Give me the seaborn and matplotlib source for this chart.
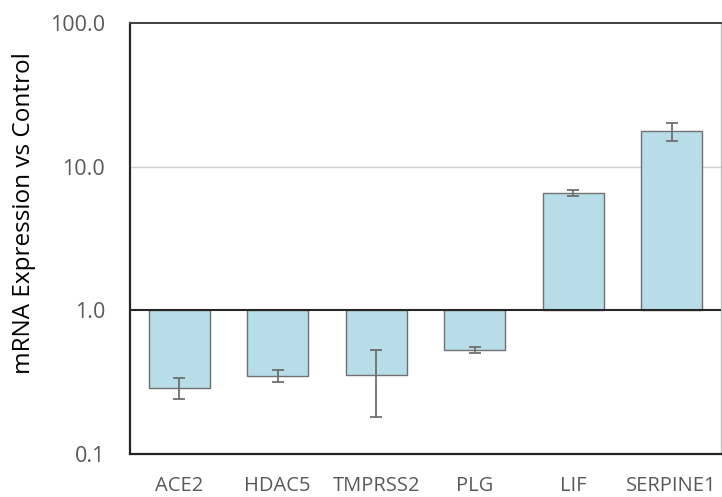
import numpy as np
import pandas as pd
import seaborn as sns
import matplotlib.pyplot as plt

# valores (expressão relativa ao controle)
genes = ['ACE2', 'HDAC5', 'TMPRSS2', 'PLG', 'LIF', 'SERPINE1']
expressao = [0.29, 0.35, 0.355, 0.53, 6.6, 17.7]
erro = [0.05, 0.033, 0.175, 0.025, 0.3, 2.6]
ticks_y = [0.1, 1.0, 10.0, 100.0]

sns.set_theme(style="white")
plt.rcParams['font.family'] = ['Open Sans', 'DejaVu Sans']

# barras partem de 1.0 -> trabalha em log10 num eixo linear
df = pd.DataFrame({'gene': genes, 'log_val': np.log10(expressao)})
vals = np.array(expressao)
errs = np.array(erro)
err_baixo = np.log10(vals) - np.log10(vals - errs)
err_cima = np.log10(vals + errs) - np.log10(vals)

fig = plt.figure(figsize=(7.22, 4.97), dpi=100)
ax = fig.add_axes([0.180, 0.0865, 0.8186, 0.8672])

sns.barplot(data=df, x='gene', y='log_val', color='#B7DEE8', saturation=1,
            width=0.62, edgecolor='#707070', linewidth=1.0, ax=ax, zorder=2)
ax.errorbar(np.arange(len(genes)), df['log_val'], yerr=[err_baixo, err_cima],
            fmt='none', ecolor='#6F6F6F', elinewidth=1.3, capsize=4.5,
            capthick=1.3, zorder=3)

ax.set_ylim(-1, 2)
ax.set_xlim(-0.5, len(genes) - 0.5)
ax.set_yticks(np.log10(ticks_y))
ax.set_yticklabels([f'{t:.1f}' for t in ticks_y])
ax.axhline(1, color='#D0D0D0', linewidth=1.0, zorder=1)
ax.axhline(0, color='#262626', linewidth=1.5, zorder=4)

ax.tick_params(axis='y', direction='in', length=5, width=1.3, color='#262626',
               pad=18, labelsize=15.5, labelcolor='#595959')
ax.tick_params(axis='x', length=0, pad=16, labelsize=14.5, labelcolor='#595959')

for lado in ['left', 'bottom']:
    ax.spines[lado].set_color('#262626')
    ax.spines[lado].set_linewidth(1.6)
ax.spines['top'].set_color('#404040')
ax.spines['top'].set_linewidth(1.4)
ax.spines['right'].set_color('#BFBFBF')
ax.spines['right'].set_linewidth(1.0)

ax.set_xlabel('')
ax.set_ylabel('mRNA Expression vs Control', fontsize=17.5, color='black')
ax.yaxis.set_label_coords(-0.159, 0.558)

fig.savefig('out.png', dpi=100)
